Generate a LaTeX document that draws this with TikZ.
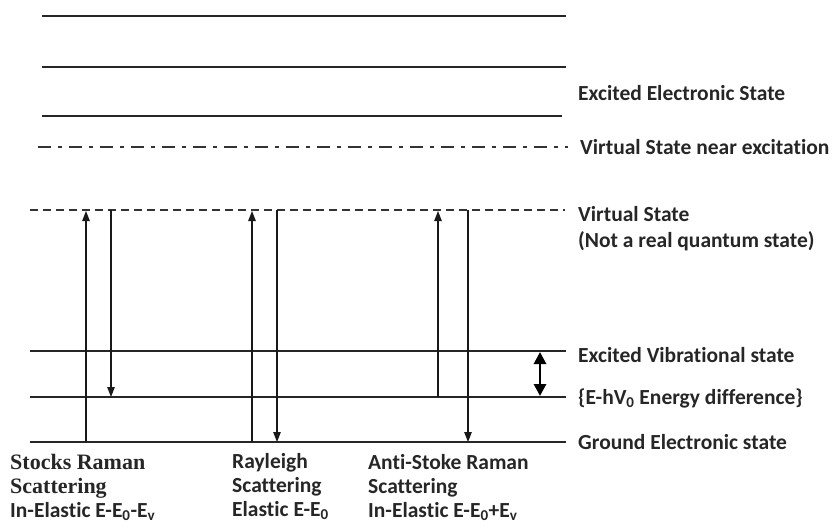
\documentclass[tikz,border=0pt]{standalone}
\usepackage{fontspec}
\setmainfont{Carlito}[Ligatures=NoCommon]
\newfontfamily\timesb{Liberation Serif}
\usetikzlibrary{arrows.meta}

\begin{document}
\begin{tikzpicture}[x=1pt, y=-1pt, >={Triangle[length=10pt,width=7.5pt]}, font=\fontsize{21.5}{24}\selectfont\bfseries]
\tikzset{level/.style={line width=1.2pt, black!85}, vnear/.style={line width=1.2pt, black!80, dash pattern=on 13pt off 7pt on 4pt off 7pt}, virt/.style={line width=1.2pt, black!80, dash pattern=on 8pt off 5pt}, trans/.style={line width=1.2pt, black!90}, lbl/.style={anchor=west, inner sep=0pt, text=black!85}, caption/.style={anchor=north west, inner sep=0pt, align=left, text=black!85}}
\useasboundingbox (0,0) rectangle (832,525);
% energy levels
\draw[level] (42,16)--(566,16);
\draw[level] (42,67)--(566,67);
\draw[level] (42,116)--(562,116);
\draw[vnear] (38,147)--(568,147);
\draw[virt] (30,210)--(565,210);
\draw[level] (30,351)--(566,351);
\draw[level] (30,397)--(566,397);
\draw[level] (30,442)--(566,442);
% level labels
\node[lbl] (exel) at (578,93) {Excited Electronic State};
\node[lbl] (vnearl) at (580,147) {Virtual State near excitation};
\node[lbl] (virtl) at (578,214) {Virtual State};
\node[lbl] (notq) at (578,241) {(Not a real quantum state)};
\node[lbl] (exvib) at (578,355) {Excited Vibrational state};
\node[lbl] (ediff) at (578,398) {\{E-hV\textsubscript{0} Energy difference\}};
\node[lbl] (grnd) at (578,442) {Ground Electronic state};
% transitions
\coordinate (stk0) at (86,442); \coordinate (stk1) at (86,211);
\coordinate (stk2) at (111,210); \coordinate (stk3) at (111,397);
\coordinate (ray0) at (252,442); \coordinate (ray1) at (252,211);
\coordinate (ray2) at (277,210); \coordinate (ray3) at (277,442);
\coordinate (ant0) at (438,397); \coordinate (ant1) at (438,211);
\coordinate (ant2) at (468,210); \coordinate (ant3) at (468,442);
\draw[->,trans] (stk0)--(stk1); \draw[->,trans] (stk2)--(stk3);
\draw[->,trans] (ray0)--(ray1); \draw[->,trans] (ray2)--(ray3);
\draw[->,trans] (ant0)--(ant1); \draw[->,trans] (ant2)--(ant3);
\coordinate (gap0) at (540,352); \coordinate (gap1) at (540,396);
\draw[<->,line width=2.8pt,>={Triangle[length=12pt,width=12pt]}] (gap0)--(gap1);
% captions
\node[caption] (stkcap) at (10,454) {\timesb\fontsize{22}{24}\selectfont Stocks Raman\\\timesb\fontsize{22}{24}\selectfont Scattering\\In-Elastic E-E\textsubscript{0}-E\textsubscript{v}};
\node[caption] (raycap) at (232,453) {Rayleigh\\Scattering\\Elastic E-E\textsubscript{0}};
\node[caption] (antcap) at (368,454) {Anti-Stoke Raman\\Scattering\\In-Elastic E-E\textsubscript{0}+E\textsubscript{v}};
\end{tikzpicture}
\end{document}
